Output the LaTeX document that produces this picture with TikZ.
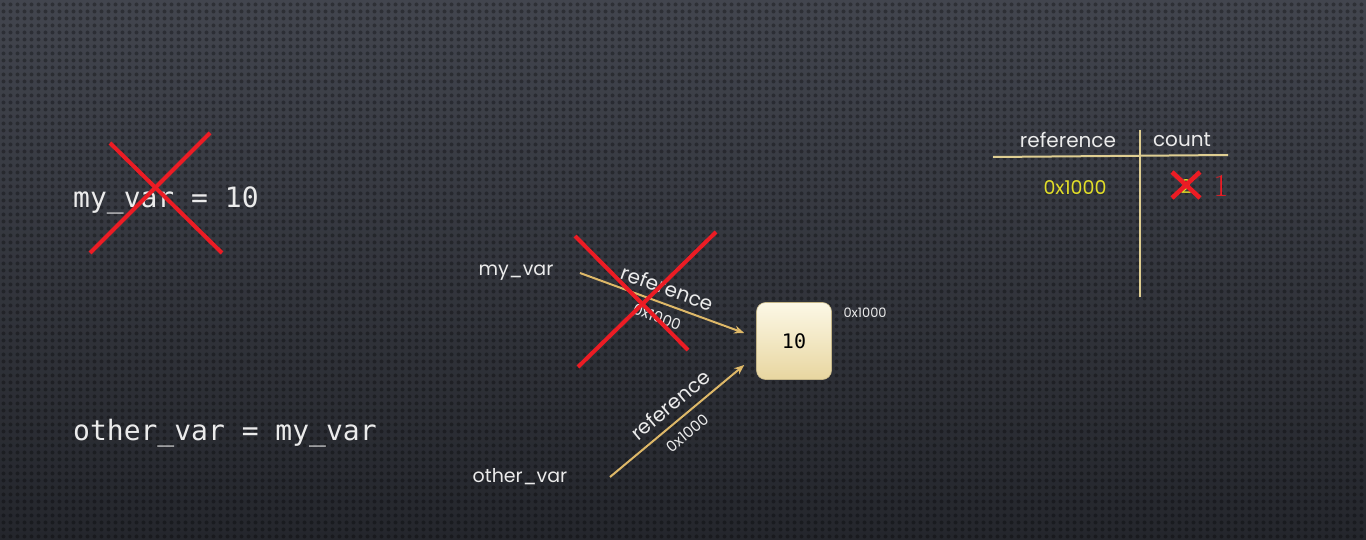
\documentclass[tikz,border=0pt]{standalone}
\usepackage{fontspec}
\setmonofont{DejaVu Sans Mono}
\newfontfamily\gothicfont{Poppins}
\usetikzlibrary{arrows.meta,calc,patterns}

\definecolor{bgtop}{RGB}{66,69,78}
\definecolor{bgbot}{RGB}{36,38,44}
\definecolor{refgold}{RGB}{222,184,104}
\definecolor{crossred}{RGB}{236,28,36}
\definecolor{tabline}{RGB}{222,205,145}
\definecolor{addryellow}{RGB}{226,222,40}
\definecolor{boxtop}{RGB}{252,248,230}
\definecolor{boxbot}{RGB}{232,214,160}
\definecolor{lighttext}{RGB}{235,235,235}

% dotted texture of the slide
\pgfdeclarepatternformonly{slidedots}{\pgfqpoint{-1pt}{-1pt}}{\pgfqpoint{8pt}{8pt}}{\pgfqpoint{7pt}{7pt}}%
  {\pgfpathcircle{\pgfqpoint{3.5pt}{3.5pt}}{2pt}\pgfusepath{fill}}

\tikzset{
  code/.style={text=lighttext, font=\ttfamily\fontsize{28}{32}\selectfont, inner sep=0pt},
  varname/.style={text=lighttext, font=\gothicfont\fontsize{19}{22}\selectfont},
  arrowlabel/.style={text=lighttext, font=\gothicfont\fontsize{20}{22}\selectfont, sloped, pos=0.5},
  arrowaddr/.style={text=lighttext, font=\gothicfont\fontsize{15}{18}\selectfont, sloped, pos=0.5},
  addrlabel/.style={text=lighttext, font=\gothicfont\fontsize{13}{16}\selectfont},
  valuebox/.style={rounded corners=9pt, minimum width=75pt, minimum height=77pt,
    top color=boxtop, bottom color=boxbot, draw=boxbot!85!black, line width=0.6pt,
    font=\ttfamily\fontsize{20}{24}\selectfont},
  refarrow/.style={draw=refgold, line width=2pt, -{Stealth[length=10pt,width=8pt]}},
  cross/.style={draw=crossred, line width=4pt},
  tabrule/.style={draw=tabline, line width=2pt},
  tabhead/.style={text=lighttext, font=\gothicfont\fontsize{20}{22}\selectfont},
}

\begin{document}
\begin{tikzpicture}[x=1pt,y=-1pt]
    % background
    \shade[top color=bgtop, bottom color=bgbot] (0,0) rectangle (1366,540);
    \fill[pattern=slidedots, pattern color=black, opacity=0.3] (0,0) rectangle (1366,540);
    \useasboundingbox (0,0) rectangle (1366,540);

    % Code lines
    \node[code, anchor=west] (line1) at (73,200) {my\_var = 10};
    \node[code, anchor=west] (line2) at (73,433) {other\_var = my\_var};

    % Variable names
    \node[varname] (myvar) at (516,273) {my\_var};
    \node[varname] (othervar) at (520,477) {other\_var};

    % Object in memory
    \node[valuebox] (val) at (794,341) {10};
    \node[addrlabel, anchor=west] (valaddr) at (840,313) {0x1000};

    % References
    \coordinate (tail1) at (580,273);
    \coordinate (tail2) at (610,477);
    \coordinate (head1) at ($(val.west)+(-12,-8)$);
    \coordinate (head2) at ($(val.west)+(-12,24)$);
    \draw[refarrow] (tail1) -- node[arrowlabel, above=4pt] {reference}
                                node[arrowaddr, below=5pt] {0x1000} (head1);
    \draw[refarrow] (tail2) -- node[arrowlabel, above=5pt, pos=0.53] {reference}
                                node[arrowaddr, below=6pt] {0x1000} (head2);

    % Reference count table
    \node[tabhead] (thref) at (1068,140) {reference};
    \node[tabhead] (thcount) at (1182,140) {count};
    \draw[tabrule] (993,157) -- (1228,155);
    \draw[tabrule] (1140,130) -- (1140,297);
    \node[text=addryellow, font=\gothicfont\fontsize{19}{22}\selectfont] (rowref) at (1075,188) {0x1000};
    \node[text=addryellow, font=\gothicfont\fontsize{19}{22}\selectfont] (rowcount) at (1186,187) {2};
    \node[text=crossred, font=\rmfamily\fontsize{32}{34}\selectfont] (newcount) at (1221,186) {1};

    % Crossed out
    \draw[cross] (110,143) -- (222,253);
    \draw[cross] (90,253) -- (210,133);
    \draw[cross] (575,236) -- (688,350);
    \draw[cross] (578,367) -- (716,232);
    \draw[cross, line width=4.5pt] (1172,172) -- (1200,198);
    \draw[cross, line width=4.5pt] (1172,198) -- (1200,172);
\end{tikzpicture}
\end{document}
